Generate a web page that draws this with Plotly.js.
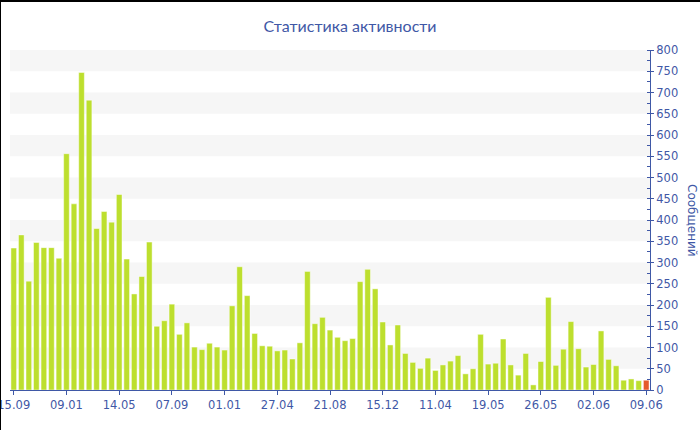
<!DOCTYPE html>
<html>
<head>
<meta charset="utf-8">
<script src="https://cdn.plot.ly/plotly-3.0.1.min.js"></script>
<style>
  html, body { margin: 0; padding: 0; background: #fff; }
  #chart { position: absolute; left: 0; top: 0; width: 700px; height: 430px; }
  .edge { position: absolute; background: #000; z-index: 5; }
</style>
</head>
<body>
<div id="chart"></div>
<div class="edge" style="left:0;top:0;width:700px;height:2px;"></div>
<div class="edge" style="left:0;top:0;width:1px;height:430px;"></div>
<script>
// Messages per period
const messages = [
  334, 365, 256, 347, 335, 335, 310, 556, 438, 747, 682, 380, 420, 395, 460,
  308, 226, 267, 348, 150, 163, 202, 131, 158, 101, 95, 110, 101, 94, 198,
  290, 222, 133, 104, 103, 92, 94, 73, 111, 279, 156, 171, 141, 124, 116,
  121, 255, 284, 238, 160, 106, 153, 86, 65, 51, 75, 46, 59, 68, 81,
  38, 50, 131, 61, 63, 120, 59, 35, 86, 12, 67, 218, 58, 96, 161,
  97, 54, 60, 139, 72, 57, 23, 26, 22, 23
];

// Date labels shown under every seventh period
const tickLabels = [
  "15.09", "09.01", "14.05", "07.09", "01.01", "27.04", "21.08",
  "15.12", "11.04", "19.05", "26.05", "02.06", "09.06"
];
const labelStep = 7;

const periods = messages.map((_, i) => i);
const tickPositions = tickLabels.map((_, i) => i * labelStep);

const green = "#bddf2e";
const current = "#e55a2b";
const barColors = messages.map((_, i) => i === messages.length - 1 ? current : green);

const blue = "#3f58a6";
const font = "DejaVu Sans, Verdana, sans-serif";
const titleFont = "Lato, Roboto, sans-serif";

// alternating light bands behind the bars
const yMax = 800, yStep = 50;
const bands = [];
for (let v = yStep; v < yMax; v += 2 * yStep) {
  bands.push({
    type: "rect", xref: "paper", yref: "y", x0: 0, x1: 1, y0: v, y1: v + yStep,
    fillcolor: "#f6f6f6", line: { width: 0 }, layer: "below"
  });
}

const trace = {
  type: "bar",
  x: periods,
  y: messages,
  marker: { color: barColors, line: { color: "rgba(255,255,255,0.45)", width: 1 } },
  hoverinfo: "y"
};

const layout = {
  width: 700,
  height: 430,
  margin: { l: 10, r: 50, t: 50, b: 40, pad: 0 },
  paper_bgcolor: "#ffffff",
  plot_bgcolor: "#ffffff",
  bargap: 0.25,
  showlegend: false,
  font: { family: font, size: 11, color: blue },
  title: {
    text: "Статистика активности",
    font: { family: titleFont, size: 16, color: blue },
    xref: "container", x: 0.5, xanchor: "center",
    yref: "container", y: 1 - 26 / 430, yanchor: "middle"
  },
  xaxis: {
    range: [-0.5, messages.length - 0.5],
    tickmode: "array",
    tickvals: tickPositions,
    ticktext: tickLabels,
    ticks: "outside", ticklen: 4, tickcolor: blue,
    ticklabeloverflow: "allow",
    showline: true, linecolor: blue, linewidth: 1,
    showgrid: false, zeroline: false,
    tickfont: { family: font, size: 11.5, color: blue },
    automargin: false, fixedrange: true
  },
  yaxis: {
    side: "right",
    range: [0, yMax],
    dtick: yStep,
    ticks: "outside", ticklen: 3, tickcolor: blue,
    ticklabeloverflow: "allow",
    minor: { dtick: 25, ticks: "inside", ticklen: 3, tickcolor: blue, showgrid: false },
    showline: true, linecolor: blue, linewidth: 1,
    showgrid: false, zeroline: false,
    tickfont: { family: font, size: 11.5, color: blue },
    automargin: false, fixedrange: true
  },
  shapes: bands,
  annotations: [{
    text: "Сообщений",
    xref: "paper", yref: "paper",
    x: (692 - 10) / 640, y: 0.5,
    xanchor: "center", yanchor: "middle",
    textangle: 90, showarrow: false,
    font: { family: font, size: 12, color: blue }
  }]
};

Plotly.newPlot("chart", [trace], layout, { displayModeBar: false, staticPlot: true });
</script>
</body>
</html>
